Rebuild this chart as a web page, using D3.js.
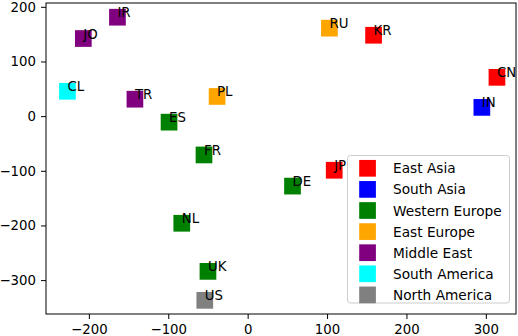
<!DOCTYPE html>
<html>
<head>
<meta charset="utf-8">
<script src="https://cdn.jsdelivr.net/npm/d3@7"></script>
<style>
  body { margin: 0; background: #fff; }
  text { font-family: "DejaVu Sans", sans-serif; }
</style>
</head>
<body>
<div id="chart"></div>
<script>
(function IFEE() {
    'use strict';
    var w = 518;
    var h = 336;

    // country codes, coordinates and region of each point
    var countries = ["CN", "KR", "JP", "IN", "ES", "FR", "DE", "NL", "UK", "RU", "PL", "IR", "JO", "TR", "CL", "US"];
    var xValues = [314, 158.6, 109, 295, -99, -55, 56.5, -83, -50, 103, -38.5, -164, -207, -142, -227, -54];
    var yValues = [71, 148, -99, 16, -11, -71, -128, -196, -284, 161, 36, 181, 142, 31, 45.5, -337];
    var regions = ["East Asia", "East Asia", "East Asia", "South Asia", "Western Europe", "Western Europe",
        "Western Europe", "Western Europe", "Western Europe", "East Europe", "East Europe",
        "Middle East", "Middle East", "Middle East", "South America", "North America"];

    var regionNames = ["East Asia", "South Asia", "Western Europe", "East Europe", "Middle East", "South America", "North America"];
    var regionColors = ["#ff0000", "#0000ff", "#008000", "#ffa500", "#800080", "#00ffff", "#808080"];

    var xTicks = [-200, -100, 0, 100, 200, 300];
    var yTicks = [-300, -200, -100, 0, 100, 200];

    var points = countries.map(function (c, i) {
        return {code: c, x: xValues[i], y: yValues[i], region: regions[i]};
    });

    var left = 46, right = 516, top = 3, bottom = 314;
    var sq = 16.7;

    var x = d3.scaleLinear().domain([-254, 338]).range([left, right]);
    var y = d3.scaleLinear().domain([-362, 207]).range([bottom, top]);
    var color = d3.scaleOrdinal().domain(regionNames).range(regionColors);

    var svg = d3.select("#chart")
        .append("svg")
        .attr("width", w)
        .attr("height", h);

    // axes
    var xAxis = d3.axisBottom(x).tickValues(xTicks).tickSize(5).tickPadding(6)
        .tickFormat(function (d) { return d3.format("")(d).replace("-", "\u2212"); });
    var yAxis = d3.axisLeft(y).tickValues(yTicks).tickSize(5).tickPadding(5)
        .tickFormat(function (d) { return d3.format("")(d).replace("-", "\u2212"); });

    svg.append("g")
        .attr("transform", "translate(0," + bottom + ")")
        .call(xAxis)
        .call(function (g) { g.select(".domain").remove(); });
    svg.append("g")
        .attr("transform", "translate(" + left + ",0)")
        .call(yAxis)
        .call(function (g) { g.select(".domain").remove(); });

    svg.selectAll(".tick text")
        .attr("font-family", "DejaVu Sans")
        .attr("font-size", "13.3px")
        .attr("fill", "#000");
    svg.selectAll(".tick line").attr("stroke", "#000").attr("stroke-width", 1);

    // squares
    svg.selectAll("rect.pt")
        .data(points)
        .enter()
        .append("rect")
        .attr("class", "pt")
        .attr("x", function (d) { return x(d.x) - sq / 2; })
        .attr("y", function (d) { return y(d.y) - sq / 2; })
        .attr("width", sq)
        .attr("height", sq)
        .attr("fill", function (d) { return color(d.region); });

    // labels
    svg.selectAll("text.lbl")
        .data(points)
        .enter()
        .append("text")
        .attr("class", "lbl")
        .attr("x", function (d) { return x(d.x); })
        .attr("y", function (d) { return y(d.y); })
        .attr("font-size", "13.3px")
        .attr("fill", "#000")
        .text(function (d) { return d.code; });

    // frame
    svg.append("rect")
        .attr("x", left)
        .attr("y", top)
        .attr("width", right - left)
        .attr("height", bottom - top)
        .attr("fill", "none")
        .attr("stroke", "#000")
        .attr("stroke-width", 1);

    // legend
    var lg = svg.append("g");
    lg.append("rect")
        .attr("x", 347.5)
        .attr("y", 155.5)
        .attr("width", 162)
        .attr("height", 147.5)
        .attr("rx", 3)
        .attr("fill", "#fff")
        .attr("fill-opacity", 0.8)
        .attr("stroke", "#cccccc");

    var rows = lg.selectAll("g.row")
        .data(regionNames)
        .enter()
        .append("g")
        .attr("class", "row")
        .attr("transform", function (d, i) { return "translate(0," + (168.3 + i * 21.1) + ")"; });
    rows.append("rect")
        .attr("x", 359.2)
        .attr("y", -sq / 2)
        .attr("width", sq)
        .attr("height", sq)
        .attr("fill", function (d) { return color(d); });
    rows.append("text")
        .attr("x", 393)
        .attr("y", 5)
        .attr("font-size", "13.7px")
        .attr("fill", "#000")
        .text(function (d) { return d; });
}());
</script>
</body>
</html>
